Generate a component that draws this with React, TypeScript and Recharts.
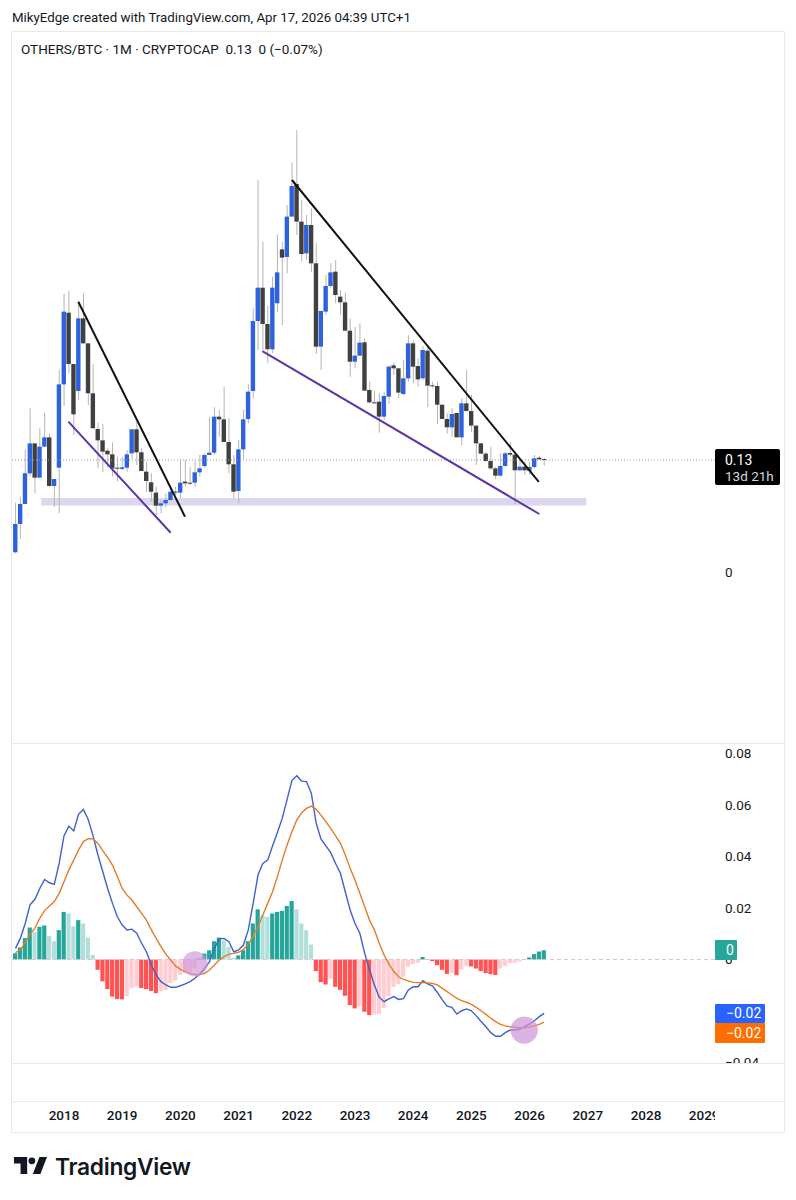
import { Bar, Cell, ComposedChart, Line, ReferenceArea, ReferenceDot, ReferenceLine, XAxis, YAxis } from "recharts"

const font = "Roboto, sans-serif"

// monthly candles, first one is Mar 2017
const opens = [
  0.0228, 0.0557, 0.0789, 0.1145, 0.1493, 0.1095, 0.1455, 0.1563, 0.0998, 0.1211,
  0.2178, 0.301, 0.2414, 0.2101, 0.2944, 0.2654, 0.2074, 0.166, 0.1528, 0.1408,
  0.1366, 0.1207, 0.1196, 0.1211, 0.1377, 0.1656, 0.1389, 0.1165, 0.1041, 0.0921,
  0.077, 0.0797, 0.0836, 0.0932, 0.0921, 0.1049, 0.1037, 0.1037, 0.1157, 0.123,
  0.1358, 0.1385, 0.1803, 0.1772, 0.1509, 0.125, 0.094, 0.1424, 0.1776, 0.2101,
  0.2913, 0.33, 0.2879, 0.2585, 0.3119, 0.3745, 0.3656, 0.4125, 0.4504, 0.4067,
  0.3699, 0.4028, 0.3583, 0.2616, 0.3022, 0.332, 0.3486, 0.3196, 0.313, 0.2801,
  0.2441, 0.2511, 0.2666, 0.2113, 0.1969, 0.1977, 0.1803, 0.2035, 0.2399, 0.2364,
  0.2066, 0.2248, 0.2654, 0.2391, 0.2248, 0.2569, 0.2163, 0.2159, 0.1942, 0.1776,
  0.1679, 0.1846, 0.1563, 0.1958, 0.1869, 0.1699, 0.1493, 0.1374, 0.1288, 0.1203,
  0.1118, 0.123, 0.1381, 0.1362, 0.118, 0.1223, 0.1172, 0.1219, 0.1327, 0.1304,
]
const closes = [
  0.0557, 0.0789, 0.1145, 0.1493, 0.1095, 0.1455, 0.1563, 0.0998, 0.1079, 0.2178,
  0.3022, 0.2414, 0.183, 0.2944, 0.2654, 0.2074, 0.1668, 0.1528, 0.1397, 0.1366,
  0.1203, 0.1199, 0.1215, 0.1366, 0.1656, 0.1389, 0.1172, 0.1056, 0.0932, 0.077,
  0.0797, 0.0836, 0.0932, 0.0921, 0.1037, 0.1029, 0.1025, 0.1157, 0.1203, 0.1358,
  0.1385, 0.1803, 0.1772, 0.1509, 0.125, 0.0932, 0.1424, 0.1772, 0.2093, 0.2913,
  0.33, 0.2879, 0.2585, 0.33, 0.3478, 0.3649, 0.4125, 0.4481, 0.4067, 0.3691,
  0.4028, 0.3583, 0.2616, 0.303, 0.332, 0.3478, 0.3215, 0.313, 0.2801, 0.2441,
  0.2511, 0.2662, 0.2105, 0.1969, 0.1958, 0.1803, 0.2043, 0.2383, 0.2364, 0.2082,
  0.2248, 0.2654, 0.2383, 0.2236, 0.2577, 0.2163, 0.2155, 0.1942, 0.1776, 0.1679,
  0.1834, 0.1563, 0.1958, 0.1869, 0.1699, 0.1493, 0.1374, 0.1288, 0.1203, 0.1118,
  0.123, 0.1377, 0.1362, 0.118, 0.1223, 0.118, 0.1219, 0.1319, 0.1308, 0.13,
]
const highs = [
  0.0805, 0.0867, 0.1424, 0.19, 0.1493, 0.1668, 0.1849, 0.1609, 0.1079, 0.2345,
  0.3234, 0.3265, 0.2414, 0.3138, 0.3234, 0.2654, 0.2414, 0.1733, 0.1718, 0.1435,
  0.1505, 0.1339, 0.1339, 0.1416, 0.1656, 0.1745, 0.1435, 0.1281, 0.1145, 0.099,
  0.0836, 0.0913, 0.099, 0.099, 0.1308, 0.13, 0.1223, 0.1292, 0.1358, 0.1377,
  0.1803, 0.1911, 0.188, 0.2151, 0.1784, 0.1358, 0.1532, 0.188, 0.2178, 0.306,
  0.455, 0.3834, 0.3088, 0.3428, 0.3919, 0.3834, 0.426, 0.4755, 0.5131, 0.4318,
  0.4144, 0.4221, 0.3815, 0.303, 0.3447, 0.3583, 0.3622, 0.3273, 0.3242, 0.2944,
  0.2848, 0.2886, 0.2712, 0.2209, 0.2105, 0.2074, 0.2093, 0.2403, 0.243, 0.2364,
  0.2461, 0.2751, 0.2693, 0.248, 0.2623, 0.2635, 0.2209, 0.2209, 0.1942, 0.1842,
  0.19, 0.1846, 0.2016, 0.2345, 0.2055, 0.1699, 0.1493, 0.1397, 0.1455, 0.1223,
  0.1377, 0.1397, 0.1513, 0.1397, 0.1319, 0.1281, 0.1281, 0.1358, 0.1346, 0.1319,
]
const lows = [
  0.0217, 0.0383, 0.0789, 0.1107, 0.0913, 0.1087, 0.1455, 0.099, 0.0758, 0.0681,
  0.1927, 0.2306, 0.159, 0.1996, 0.2654, 0.1938, 0.1668, 0.1203, 0.1165, 0.1223,
  0.1107, 0.1049, 0.1184, 0.1165, 0.1308, 0.1242, 0.1172, 0.0932, 0.0816, 0.0662,
  0.0681, 0.0751, 0.0828, 0.0894, 0.0855, 0.099, 0.101, 0.099, 0.1107, 0.1211,
  0.1358, 0.1358, 0.1571, 0.1509, 0.1145, 0.0855, 0.0797, 0.1308, 0.1726, 0.2016,
  0.2577, 0.2577, 0.2422, 0.2538, 0.3022, 0.2867, 0.3467, 0.4125, 0.3912, 0.3602,
  0.3622, 0.3486, 0.253, 0.2345, 0.2983, 0.3293, 0.3119, 0.2983, 0.2801, 0.2267,
  0.2364, 0.2511, 0.2105, 0.1958, 0.1958, 0.1617, 0.1764, 0.195, 0.2287, 0.2016,
  0.2055, 0.2209, 0.219, 0.2151, 0.2229, 0.1911, 0.2132, 0.1718, 0.1776, 0.1609,
  0.1571, 0.1563, 0.1474, 0.1869, 0.1629, 0.1242, 0.137, 0.1281, 0.1184, 0.1076,
  0.1107, 0.1223, 0.1339, 0.0789, 0.1176, 0.1126, 0.1126, 0.1203, 0.13, 0.1234,
]

// MACD pane
const histogram = [
  0.0024, 0.0047, 0.0083, 0.0124, 0.0107, 0.0127, 0.0132, 0.0091, 0.0071, 0.0114,
  0.0185, 0.0179, 0.0129, 0.0153, 0.014, 0.0085, 0.0018, -0.004, -0.0085, -0.0115,
  -0.0144, -0.0154, -0.0155, -0.0142, -0.011, -0.0105, -0.0111, -0.0115, -0.0122, -0.0131,
  -0.0124, -0.0118, -0.0092, -0.0082, -0.006, -0.0053, -0.0047, -0.0034, 0.0004, 0.0023,
  0.0036, 0.0071, 0.0085, 0.0075, 0.0049, 0.0006, 0.0016, 0.0036, 0.0071, 0.014,
  0.0195, 0.0172, 0.0166, 0.0179, 0.0185, 0.0189, 0.0208, 0.0227, 0.0195, 0.014,
  0.0114, 0.0058, -0.0045, -0.0088, -0.0097, -0.0074, -0.0106, -0.0118, -0.0141, -0.0177,
  -0.019, -0.0181, -0.0203, -0.0216, -0.0214, -0.0212, -0.0188, -0.0142, -0.0106, -0.0096,
  -0.0067, -0.0028, -0.0018, -0.0013, 0.001, -0.0002, -0.0006, -0.0022, -0.004, -0.0056,
  -0.0052, -0.0061, -0.0039, -0.0026, -0.0027, -0.0035, -0.0045, -0.0053, -0.0057, -0.006,
  -0.0035, -0.0026, -0.0014, -0.0013, -0.0008, -0.0002, 0.0008, 0.0021, 0.0031, 0.0036,
]
const macd = [
  0.0043, 0.0082, 0.014, 0.0212, 0.0234, 0.0276, 0.0311, 0.0298, 0.0292, 0.0373,
  0.048, 0.0518, 0.0499, 0.0564, 0.0583, 0.0544, 0.048, 0.0406, 0.0341, 0.0276,
  0.0218, 0.0166, 0.0134, 0.0115, 0.0118, 0.0102, 0.0063, 0.003, -0.0021, -0.006,
  -0.0086, -0.0099, -0.0108, -0.0108, -0.0102, -0.0095, -0.0086, -0.0073, -0.0056, -0.0034,
  -0.0008, 0.0043, 0.008, 0.0082, 0.0069, 0.003, 0.0037, 0.0056, 0.0115, 0.0218,
  0.0328, 0.0373, 0.0386, 0.0441, 0.0493, 0.0548, 0.0622, 0.0695, 0.0714, 0.0693,
  0.0691, 0.0645, 0.0529, 0.0467, 0.0441, 0.0415, 0.0373, 0.0335, 0.0263, 0.0192,
  0.014, 0.0102, 0.0024, -0.0041, -0.0099, -0.0147, -0.0164, -0.0153, -0.0144, -0.0155,
  -0.0152, -0.0118, -0.0106, -0.0106, -0.0082, -0.0095, -0.0103, -0.0128, -0.0157, -0.0181,
  -0.0186, -0.0212, -0.0199, -0.0192, -0.0199, -0.0219, -0.0241, -0.0261, -0.0284, -0.0298,
  -0.0298, -0.0284, -0.0274, -0.0274, -0.027, -0.0261, -0.025, -0.0238, -0.0222, -0.0209,
]
const signal = [
  0.0027, 0.0037, 0.0065, 0.0099, 0.0121, 0.016, 0.019, 0.0208, 0.0225, 0.0257,
  0.0302, 0.0348, 0.0386, 0.0425, 0.0458, 0.0469, 0.0469, 0.0451, 0.0423, 0.0397,
  0.0367, 0.0322, 0.0276, 0.025, 0.0231, 0.0205, 0.0179, 0.0153, 0.0115, 0.0082,
  0.005, 0.0021, -0.0002, -0.0025, -0.0038, -0.0047, -0.0055, -0.0058, -0.0058, -0.0054,
  -0.0041, -0.0021, -0.0002, 0.0011, 0.0021, 0.0024, 0.0028, 0.0039, 0.0059, 0.0089,
  0.0128, 0.0173, 0.0218, 0.0263, 0.0322, 0.0386, 0.0445, 0.0496, 0.0542, 0.057,
  0.0587, 0.0596, 0.0583, 0.0561, 0.0535, 0.0509, 0.048, 0.0451, 0.0406, 0.0354,
  0.0309, 0.0257, 0.0205, 0.0153, 0.0115, 0.0063, 0.0017, -0.0017, -0.0047, -0.0067,
  -0.0077, -0.0083, -0.0089, -0.009, -0.009, -0.0091, -0.0093, -0.0099, -0.0112, -0.0125,
  -0.0138, -0.0151, -0.016, -0.0166, -0.0174, -0.0186, -0.0199, -0.0213, -0.0228, -0.0241,
  -0.0252, -0.0258, -0.0261, -0.0263, -0.0265, -0.0265, -0.0262, -0.0258, -0.0252, -0.0243,
]

const yearTicks = [10, 22, 34, 46, 58, 70, 82, 94, 106, 118, 130, 142]
const yearLabels = ["2018", "2019", "2020", "2021", "2022", "2023", "2024", "2025", "2026", "2027", "2028", "2029"]
const macdTicks = [0.08, 0.06, 0.04, 0.02, 0, -0.02, -0.04]

const xDomain: [number, number] = [-0.72, 144.23]

const priceRows = opens.map((open, i) => ({
  idx: i,
  wick: [lows[i], highs[i]],
  body: [Math.min(open, closes[i]), Math.max(open, closes[i])],
  up: closes[i] >= open,
}))

const macdRows = histogram.map((value, i) => ({ idx: i, value, macd: macd[i], signal: signal[i] }))

// TradingView colours the bars by direction against the previous month
function histColor(i: number) {
  const value = histogram[i]
  const rising = i === 0 || value >= histogram[i - 1]
  if (value >= 0) return rising ? "#26a69a" : "#b2dfdb"
  return rising ? "#ffcdd2" : "#ff5252"
}

function PriceTag({ viewBox }: any) {
  const x = viewBox.x + viewBox.width
  const y = viewBox.y
  return (
    <g fontFamily={font}>
      <rect x={x} y={y - 11} width={65} height={36} rx={2} fill="#000000" />
      <text x={x + 10} y={y + 5} fontSize={14} fill="#ffffff">0.13</text>
      <text x={x + 10} y={y + 21} fontSize={13.5} fill="#d1d4dc">13d 21h</text>
    </g>
  )
}

function Tag({ top, width, height, bg, children }: any) {
  return (
    <div
      style={{
        position: "absolute",
        left: 715,
        top,
        width: width - 11,
        height,
        paddingLeft: 11,
        background: bg,
        color: "#ffffff",
        fontSize: 14,
        lineHeight: height + "px",
        borderRadius: 1,
      }}
    >
      {children}
    </div>
  )
}

export default function App() {
  const line = "#e9e9ea"
  return (
    <div style={{ position: "absolute", left: 0, top: 0, width: 796, height: 1200, background: "#fff", fontFamily: font, color: "#131722", overflow: "hidden" }}>
      <div style={{ position: "absolute", left: 12, top: 10, fontSize: 13.3, whiteSpace: "nowrap" }}>
        MikyEdge created with TradingView.com, Apr 17, 2026 04:39 UTC+1
      </div>

      {/* chart frame */}
      <div style={{ position: "absolute", left: 11, top: 31, width: 772, height: 1100, border: "1px solid " + line, boxSizing: "content-box" }} />
      <div style={{ position: "absolute", left: 11, top: 743, width: 773, height: 1, background: line }} />
      <div style={{ position: "absolute", left: 11, top: 1063, width: 773, height: 1, background: line }} />
      <div style={{ position: "absolute", left: 11, top: 1101, width: 773, height: 1, background: line }} />

      <div style={{ position: "absolute", left: 12, top: 32 }}>
        <ComposedChart width={771} height={711} data={priceRows} margin={{ top: 0, right: 0, bottom: 0, left: 0 }}>
          <XAxis dataKey="idx" type="number" domain={xDomain} allowDataOverflow hide />
          <XAxis dataKey="idx" type="number" domain={xDomain} allowDataOverflow hide xAxisId="wick" />
          <YAxis
            orientation="right"
            width={68}
            domain={[-0.1985, 0.6268]}
            allowDataOverflow
            ticks={[0]}
            interval={0}
            tickLine={false}
            axisLine={false}
            tickSize={0}
            tickMargin={10}
            tick={{ fontSize: 13.5, fill: "#131722", fontFamily: font }}
          />
          <ReferenceArea x1={5.3} x2={117.7} y1={0.0772} y2={0.0859} fill="#dcd6ef" fillOpacity={1} stroke="none" />
          <ReferenceLine y={0.13} stroke="#9598a1" strokeDasharray="1 2" label={<PriceTag />} />
          <Bar dataKey="wick" xAxisId="wick" barSize={1} fill="#b4b4b4" isAnimationActive={false} />
          <Bar dataKey="body" barSize={4.4} minPointSize={1} isAnimationActive={false}>
            {priceRows.map((row) => (
              <Cell key={row.idx} fill={row.up ? "#2e62dc" : "#404040"} />
            ))}
          </Bar>
          <ReferenceLine segment={[{ x: 12.95, y: 0.3137 }, { x: 34.95, y: 0.0642 }]} stroke="#111111" strokeWidth={2} />
          <ReferenceLine segment={[{ x: 57, y: 0.455 }, { x: 107.9, y: 0.1045 }]} stroke="#111111" strokeWidth={2} />
          <ReferenceLine segment={[{ x: 10.9, y: 0.1745 }, { x: 32, y: 0.0456 }]} stroke="#5e35a5" strokeWidth={2} />
          <ReferenceLine segment={[{ x: 50.9, y: 0.2565 }, { x: 108, y: 0.0673 }]} stroke="#5e35a5" strokeWidth={2} />
        </ComposedChart>
      </div>

      <div style={{ position: "absolute", left: 21, top: 41, fontSize: 13.5, whiteSpace: "pre" }}>
        {"OTHERS/BTC · 1M · CRYPTOCAP  0.13  0 (−0.07%)"}
      </div>

      <div style={{ position: "absolute", left: 12, top: 744 }}>
        <ComposedChart width={771} height={319} data={macdRows} margin={{ top: 0, right: 0, bottom: 0, left: 0 }}>
          <XAxis dataKey="idx" type="number" domain={xDomain} allowDataOverflow hide />
          <YAxis
            orientation="right"
            width={68}
            domain={[-0.0402, 0.0837]}
            allowDataOverflow
            ticks={macdTicks}
            interval={0}
            tickFormatter={(v: number) => String(v).replace("-", "−")}
            tickLine={false}
            axisLine={false}
            tickSize={0}
            tickMargin={10}
            tick={{ fontSize: 13.5, fill: "#131722", fontFamily: font }}
          />
          <ReferenceLine y={0} stroke="#d8c9cb" strokeDasharray="4 3" />
          <Bar dataKey="value" barSize={4.2} isAnimationActive={false}>
            {macdRows.map((row) => (
              <Cell key={row.idx} fill={histColor(row.idx)} />
            ))}
          </Bar>
          <ReferenceDot x={37} y={-0.0017} r={12.7} fill="#ce93d8" fillOpacity={0.65} stroke="none" />
          <ReferenceDot x={104.9} y={-0.0274} r={13.6} fill="#ce93d8" fillOpacity={0.7} stroke="none" />
          <Line dataKey="macd" type="linear" stroke="#3d62c9" strokeWidth={1.4} dot={false} isAnimationActive={false} />
          <Line dataKey="signal" type="linear" stroke="#e57c2a" strokeWidth={1.4} dot={false} isAnimationActive={false} />
        </ComposedChart>
      </div>

      <Tag top={940} width={22} height={20} bg="#26a69a">0</Tag>
      <Tag top={1004} width={50} height={19} bg="#2962ff">−0.02</Tag>
      <Tag top={1023} width={50} height={20} bg="#ff6d00">−0.02</Tag>

      <div style={{ position: "absolute", left: 12, top: 1102 }}>
        <ComposedChart width={703} height={30} data={macdRows} margin={{ top: 0, right: 0, bottom: 0, left: 0 }}>
          <XAxis
            dataKey="idx"
            type="number"
            domain={xDomain}
            allowDataOverflow
            ticks={yearTicks}
            interval={0}
            height={30}
            tickFormatter={(v: number) => yearLabels[yearTicks.indexOf(v)]}
            tickLine={false}
            axisLine={false}
            tick={{ fontSize: 13.5, fontWeight: 500, fill: "#131722", fontFamily: font }}
          />
          <YAxis hide />
        </ComposedChart>
      </div>

      {/* TradingView wordmark */}
      <svg style={{ position: "absolute", left: 13, top: 1156 }} width={34} height={19} viewBox="0 0 36 20">
        <path d="M15 19H8V8H1V1h14v18zM29 19h-8L28 1h8l-7 18z" fill="#131722" />
        <circle cx="20" cy="5" r="3.6" fill="#131722" />
      </svg>
      <div style={{ position: "absolute", left: 55, top: 1153, fontFamily: "Inter, sans-serif", fontSize: 22.8, fontWeight: 600, letterSpacing: -0.3, whiteSpace: "nowrap" }}>
        TradingView
      </div>
    </div>
  )
}
